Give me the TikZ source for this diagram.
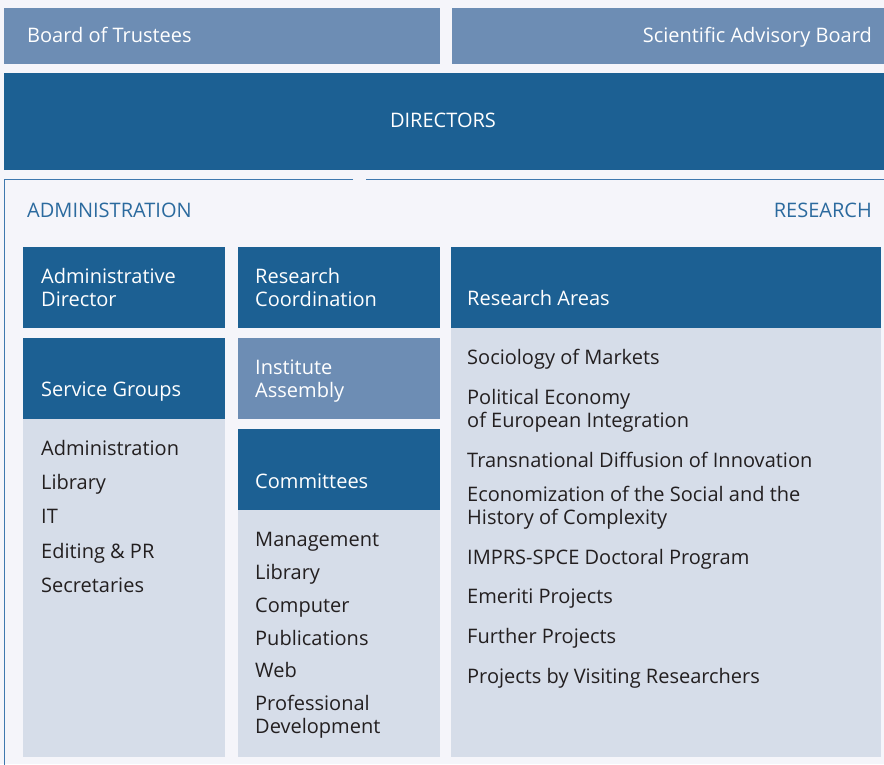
\documentclass[tikz,border=0pt]{standalone}
\usepackage{fontspec}
\setmainfont{Open Sans}
\definecolor{pagebg}{HTML}{F5F5FA}
\definecolor{dkblue}{HTML}{1C6093}
\definecolor{mdblue}{HTML}{6D8DB4}
\definecolor{ltbody}{HTML}{D6DDE9}
\definecolor{frameblue}{HTML}{3E78AE}
\definecolor{txtdark}{HTML}{231F20}
\definecolor{headblue}{HTML}{2B6A9E}
\newcommand\mysize{\fontsize{20}{23}\selectfont}
\newcommand\twoline[2]{\begin{tabular}[t]{@{}l@{}}#1\\#2\end{tabular}}
\tikzset{
  blk/.style={draw=none, inner sep=0pt, outer sep=0pt, anchor=north west},
  dkbox/.style={blk, fill=dkblue},
  mdbox/.style={blk, fill=mdblue},
  ltbox/.style={blk, fill=ltbody},
  wtxt/.style={anchor=base west, inner sep=0pt, text=white, font=\mysize},
  dtxt/.style={anchor=base west, inner sep=0pt, text=txtdark, font=\mysize},
  htxt/.style={anchor=base west, inner sep=0pt, text=headblue, font=\mysize},
  frameline/.style={draw=frameblue, line width=1.3pt}
}
\begin{document}
\begin{tikzpicture}[x=1pt, y=-1pt]
\fill[pagebg] (0,0) rectangle (884,764);
\useasboundingbox (0,0) rectangle (884,764);
\clip (0,0) rectangle (884,764);

% top boards
\node[mdbox, minimum width=436pt, minimum height=56pt] (bt) at (4,7.5) {};
\node[mdbox, minimum width=440pt, minimum height=56pt] (sab) at (452,7.5) {};
\node[wtxt] (btt) at (27,42) {Board of Trustees};
\node[wtxt, anchor=base east] (sabt) at (872,42) {Scientific Advisory Board};

% directors
\node[dkbox, minimum width=884pt, minimum height=97pt] (dir) at (4,72.5) {};
\node[wtxt, anchor=base] (dirt) at (443,127) {DIRECTORS};

% frame
\draw[frameline] (353,179.5) -- (4.5,179.5) -- (4.5,780);
\draw[frameline] (366,179.5) -- (900,179.5);

\node[htxt] (admt) at (27,217) {ADMINISTRATION};
\node[htxt, anchor=base east] (rest) at (872,217) {RESEARCH};

% column 1
\node[dkbox, minimum width=202pt, minimum height=81pt] (ad) at (23,247) {};
\node[dkbox, minimum width=202pt, minimum height=81pt] (sg) at (23,338) {};
\node[ltbox, minimum width=202pt, minimum height=338pt] (b1) at (23,419) {};
\node[wtxt] (adt) at (41,283) {\twoline{Administrative}{Director}};
\node[wtxt] (sgt) at (41,396) {Service Groups};
\node[dtxt] (c1a) at (41,455) {Administration};
\node[dtxt] (c1b) at (41,489) {Library};
\node[dtxt] (c1c) at (41,523) {IT};
\node[dtxt] (c1d) at (41,558) {Editing \& PR};
\node[dtxt] (c1e) at (41,592) {Secretaries};

% column 2
\node[dkbox, minimum width=202pt, minimum height=81pt] (rc) at (238,247) {};
\node[mdbox, minimum width=202pt, minimum height=81pt] (ia) at (238,338) {};
\node[dkbox, minimum width=202pt, minimum height=81pt] (cm) at (238,429) {};
\node[ltbox, minimum width=202pt, minimum height=247pt] (b2) at (238,510) {};
\node[wtxt] (rct) at (255,283) {\twoline{Research}{Coordination}};
\node[wtxt] (iat) at (255,374) {\twoline{Institute}{Assembly}};
\node[wtxt] (cmt) at (255,488) {Committees};
\node[dtxt] (c2a) at (255,546) {Management};
\node[dtxt] (c2b) at (255,579) {Library};
\node[dtxt] (c2c) at (255,612) {Computer};
\node[dtxt] (c2d) at (255,645) {Publications};
\node[dtxt] (c2e) at (255,677) {Web};
\node[dtxt] (c2f) at (255,710) {\twoline{Professional}{Development}};

% column 3
\node[dkbox, minimum width=430pt, minimum height=81pt] (ra) at (451,247) {};
\node[ltbox, minimum width=430pt, minimum height=429pt] (b3) at (451,328) {};
\node[wtxt] (rat) at (467,305) {Research Areas};
\node[dtxt] (c3a) at (467,364) {Sociology of Markets};
\node[dtxt] (c3b) at (467,404) {\twoline{Political Economy}{of European Integration}};
\node[dtxt] (c3c) at (467,467) {Transnational Diffusion of Innovation};
\node[dtxt] (c3d) at (467,501) {\twoline{Economization of the Social and the}{History of Complexity}};
\node[dtxt] (c3e) at (467,564) {IMPRS-SPCE Doctoral Program};
\node[dtxt] (c3f) at (467,603) {Emeriti Projects};
\node[dtxt] (c3g) at (467,643) {Further Projects};
\node[dtxt] (c3h) at (467,683) {Projects by Visiting Researchers};
\end{tikzpicture}
\end{document}
